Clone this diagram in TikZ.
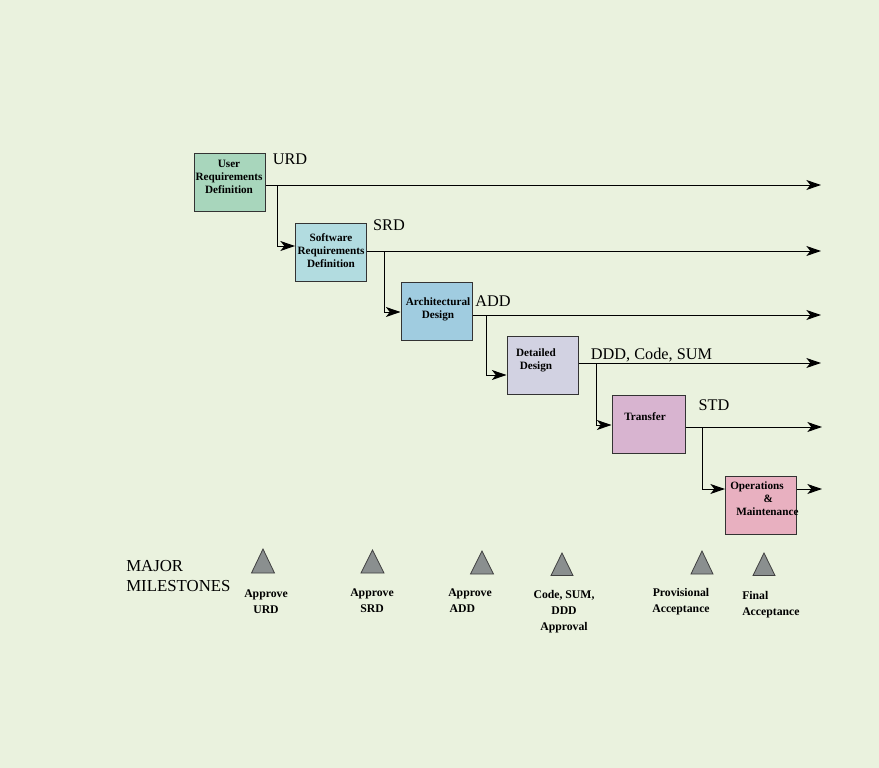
\documentclass[tikz,border=0pt]{standalone}
\usepackage{fontspec}
\setmainfont{Liberation Serif}
\usetikzlibrary{arrows.meta}
\definecolor{bg}{RGB}{234,242,222}
\definecolor{cA}{RGB}{168,214,188}
\definecolor{cB}{RGB}{178,220,224}
\definecolor{cC}{RGB}{160,204,224}
\definecolor{cD}{RGB}{210,210,226}
\definecolor{cE}{RGB}{216,180,208}
\definecolor{cF}{RGB}{232,176,192}
\definecolor{msgray}{RGB}{138,143,143}
\begin{document}
\begin{tikzpicture}[x=0.75pt,y=-0.75pt,
  box/.style={draw=black!80, line width=0.75pt, minimum width=53.25pt, minimum height=43.5pt, inner sep=0pt},
  boxtxt/.style={font=\bfseries\fontsize{8.4}{9.75}\selectfont, align=center, inner sep=0pt},
  flow/.style={line width=0.75pt, -{Stealth[length=11pt,width=7.5pt,inset=3pt]}},
  lbl/.style={font=\fontsize{12.2}{14}\selectfont, inner sep=0pt},
  mtxt/.style={font=\bfseries\fontsize{8.8}{12}\selectfont, align=center, inner sep=0pt},
  ms/.style={draw=black!75, fill=msgray, line width=0.6pt}]
\fill[bg] (0,0) rectangle (879,768);
\useasboundingbox (0,0) rectangle (879,768);

% boxes
\node[box, fill=cA] (b1) at (229.5,182) {};
\node[box, fill=cB] (b2) at (331,252) {};
\node[box, fill=cC] (b3) at (436.5,311) {};
\node[box, fill=cD] (b4) at (542.5,365.5) {};
\node[box, fill=cE, minimum width=54.75pt] (b5) at (648.5,424) {};
\node[box, fill=cF] (b6) at (761,505) {};

% box texts
\node[boxtxt] (t1) at (229,177) {User\\Requirements\\Definition};
\node[boxtxt] (t2) at (331,251) {Software\\Requirements\\Definition};
\node[boxtxt] (t3) at (438,309.5) {Architectural\\Design};
\node[boxtxt] (t4) at (536,360.5) {Detailed\\Design};
\node[boxtxt] (t5) at (645,417) {Transfer};
\node[boxtxt, align=left, anchor=west] (t6) at (730,499) {Operations\\\hspace*{25pt}\&\\\hspace*{4.5pt}Maintenance};

% output labels
\node[lbl] (l1) at (290,159) {URD};
\node[lbl] (l2) at (389,225) {SRD};
\node[lbl] (l3) at (493,301) {ADD};
\node[lbl] (l4) at (651.5,355) {DDD, Code, SUM};
\node[lbl] (l5) at (714,405) {STD};

% coordinates
\coordinate (r1) at (0,185);  \coordinate (j1) at (277,185); \coordinate (e1) at (821,185); \coordinate (k2) at (0,246);
\coordinate (r2) at (0,251);  \coordinate (j2) at (384,251); \coordinate (e2) at (821,251); \coordinate (k3) at (0,312);
\coordinate (r3) at (0,315);  \coordinate (j3) at (486,315); \coordinate (e3) at (821,315); \coordinate (k4) at (0,375);
\coordinate (r4) at (0,363);  \coordinate (j4) at (596,363); \coordinate (e4) at (821,363); \coordinate (k5) at (0,425);
\coordinate (r5) at (0,427);  \coordinate (j5) at (702,427); \coordinate (e5) at (822,427); \coordinate (k6) at (0,489);
\coordinate (e6) at (822,489);

\draw[flow] (b1.east |- r1) -- (e1);
\draw[flow] (j1) |- (b2.west |- k2);
\draw[flow] (b2.east |- r2) -- (e2);
\draw[flow] (j2) |- (b3.west |- k3);
\draw[flow] (b3.east |- r3) -- (e3);
\draw[flow] (j3) |- (b4.west |- k4);
\draw[flow] (b4.east |- r4) -- (e4);
\draw[flow] (j4) |- (b5.west |- k5);
\draw[flow] (b5.east |- r5) -- (e5);
\draw[flow] (j5) |- (b6.west |- k6);
\draw[flow] (b6.east |- k6) -- (e6);

% milestones
\node[lbl, align=left, anchor=west, font=\fontsize{12.6}{15}\selectfont] (mm) at (126,576.5) {MAJOR\\MILESTONES};
\draw[ms] (263,549) -- (274.5,573) -- (251.5,573) -- cycle;
\draw[ms] (372.5,550) -- (384,573) -- (361,573) -- cycle;
\draw[ms] (482,551) -- (493.5,574) -- (470.5,574) -- cycle;
\draw[ms] (562,553) -- (573,575.5) -- (551,575.5) -- cycle;
\draw[ms] (702,551) -- (713,574) -- (691,574) -- cycle;
\draw[ms] (764,553) -- (775,575.5) -- (753,575.5) -- cycle;

\node[mtxt] (m1) at (266,602) {Approve\\URD};
\node[mtxt] (m2) at (372,601) {Approve\\SRD};
\node[mtxt, align=left, anchor=west] (m3) at (448,600.5) {Approve\\\hspace*{1pt}ADD};
\node[mtxt] (m4) at (564,611.5) {Code, SUM,\\DDD\\Approval};
\node[mtxt] (m5) at (681,602) {Provisional\\Acceptance};
\node[mtxt, align=left, anchor=west] (m6) at (742,605) {Final\\Acceptance};
\end{tikzpicture}
\end{document}
